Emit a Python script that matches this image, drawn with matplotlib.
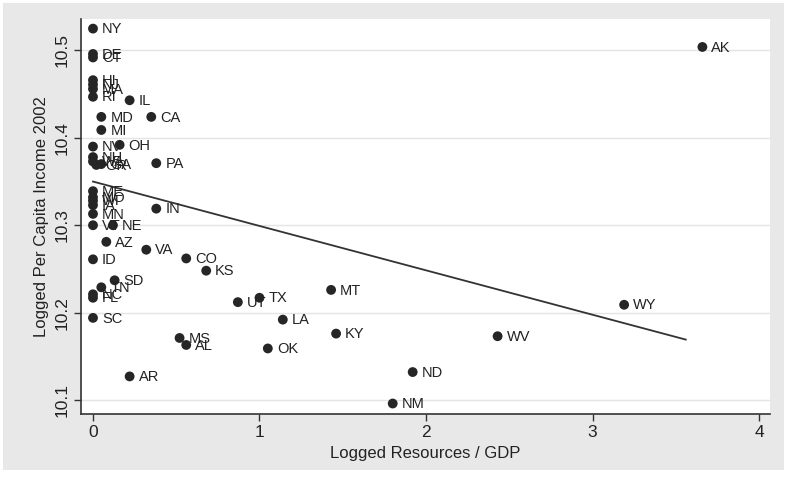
import matplotlib
matplotlib.use("Agg")
import matplotlib.pyplot as plt
from matplotlib.patches import Rectangle

# state labels, logged resources/GDP, logged per capita income 2002
states = ["NY", "DE", "CT", "HI", "NJ", "MA", "RI", "IL", "MD", "CA",
          "MI", "NV", "OH", "NH", "PA", "WA", "OR", "GA", "ME", "MO",
          "WI", "IA", "MN", "IN", "VT", "NE", "AZ", "VA", "ID", "CO",
          "KS", "SD", "TN", "NC", "FL", "UT", "TX", "SC", "MS", "AL",
          "AR", "LA", "OK", "MT", "KY", "ND", "NM", "WV", "WY", "AK"]
resources = [0.00, 0.00, 0.00, 0.00, 0.00, 0.00, 0.00, 0.22, 0.05, 0.35,
             0.05, 0.00, 0.16, 0.00, 0.38, 0.00, 0.02, 0.05, 0.00, 0.00,
             0.00, 0.00, 0.00, 0.38, 0.00, 0.12, 0.08, 0.32, 0.00, 0.56,
             0.68, 0.13, 0.05, 0.00, 0.00, 0.87, 1.00, 0.00, 0.52, 0.56,
             0.22, 1.14, 1.05, 1.43, 1.46, 1.92, 1.80, 2.43, 3.19, 3.66]
income = [10.525, 10.496, 10.492, 10.466, 10.461, 10.456, 10.447, 10.443, 10.424, 10.424,
          10.409, 10.390, 10.392, 10.378, 10.371, 10.373, 10.369, 10.370, 10.339, 10.332,
          10.328, 10.323, 10.313, 10.319, 10.300, 10.300, 10.281, 10.272, 10.261, 10.262,
          10.248, 10.237, 10.229, 10.221, 10.217, 10.212, 10.217, 10.194, 10.171, 10.163,
          10.127, 10.192, 10.159, 10.226, 10.176, 10.132, 10.096, 10.173, 10.209, 10.504]

# fitted line (intercept, slope) and its x span
fit_a, fit_b = 10.350, -0.0508
fit_x = [0.0, 3.56]

fig = plt.figure(figsize=(7.87, 4.79), dpi=100)
fig.patch.set_facecolor("white")
fig.patches.append(Rectangle((3 / 787, 9 / 479), 781 / 787, 467 / 479,
                             transform=fig.transFigure, facecolor="#e8e8e8",
                             edgecolor="none", zorder=-10))

ax = fig.add_axes([81 / 787, 1 - 414 / 479, 689 / 787, 395 / 479])
ax.set_facecolor("white")

font = "Liberation Sans"

ax.plot(fit_x, [fit_a + fit_b * x for x in fit_x], color="#333333", lw=1.3, zorder=2)
ax.scatter(resources, income, s=50, color="#262626", edgecolors="none", zorder=3)
for st, x, y in zip(states, resources, income):
    ax.annotate(st, (x, y), xytext=(6.5, -0.5), textcoords="offset points",
                va="center", ha="left", fontsize=10.5, family=font, color="#222222")

ax.set_xlim(-0.072, 4.066)
ax.set_ylim(10.084, 10.536)
ax.set_xticks([0, 1, 2, 3, 4])
ax.set_yticks([10.1, 10.2, 10.3, 10.4, 10.5])
ax.set_yticklabels(["10.1", "10.2", "10.3", "10.4", "10.5"], rotation=90, va="center")
ax.grid(axis="y", color="#e4e4e4", lw=1)
ax.set_axisbelow(True)

for s in ["top", "right"]:
    ax.spines[s].set_visible(False)
for s in ["left", "bottom"]:
    ax.spines[s].set_color("#333333")
    ax.spines[s].set_linewidth(1.2)
ax.tick_params(axis="both", direction="out", length=5, width=1, color="#333333",
               labelsize=12.5, labelcolor="#222222", pad=3)
for lab in ax.get_xticklabels() + ax.get_yticklabels():
    lab.set_family(font)

ax.set_xlabel("Logged Resources / GDP", fontsize=12, family=font, color="#222222", labelpad=4)
ax.set_ylabel("Logged Per Capita Income 2002", fontsize=12, family=font, color="#222222", labelpad=4)

fig.savefig("out.png", dpi=100, facecolor=fig.get_facecolor())
